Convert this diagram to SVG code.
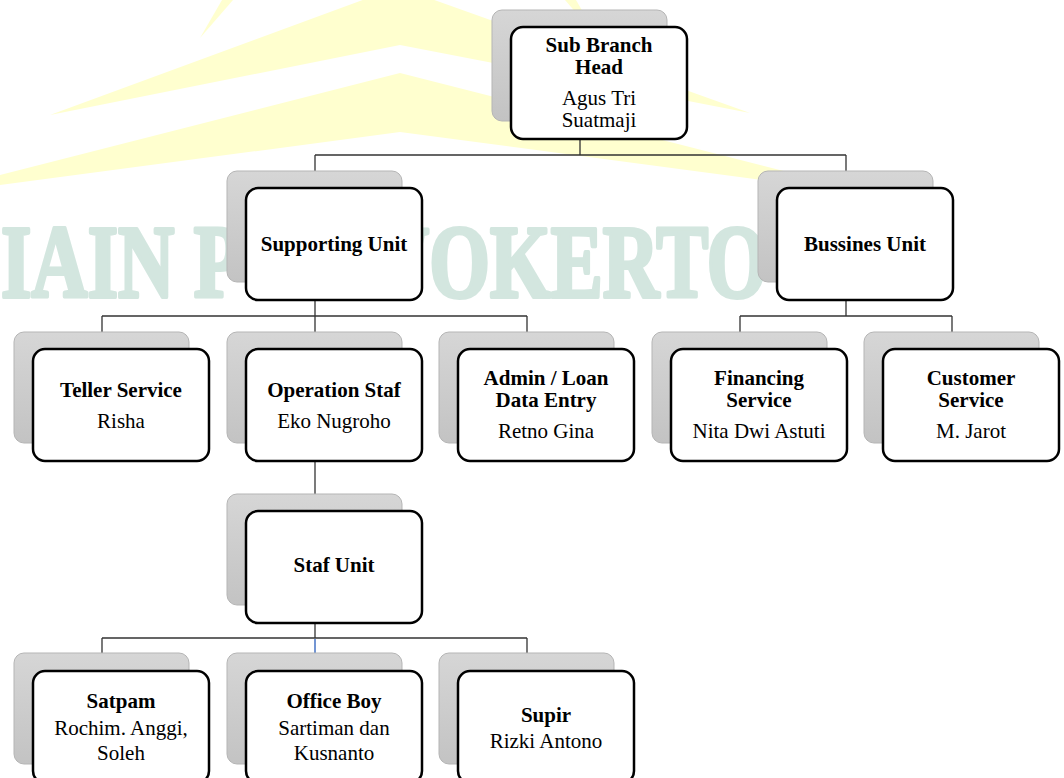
<svg xmlns="http://www.w3.org/2000/svg" width="1064" height="778" viewBox="0 0 1064 778">
<defs>
<linearGradient id="sg" x1="0" y1="0" x2="0" y2="1"><stop offset="0" stop-color="#d6d6d6"/><stop offset="1" stop-color="#c3c3c3"/></linearGradient>
<style>
.sh{fill:url(#sg);stroke:#b5b5b5;stroke-width:1}
.mn{fill:#fff;stroke:#000;stroke-width:2.5}
.t{font-family:"Liberation Serif",serif;font-size:21px;font-weight:bold;text-anchor:middle;fill:#000}
.n{font-family:"Liberation Serif",serif;font-size:21px;text-anchor:middle;fill:#000}
.c{fill:none;stroke:#333;stroke-width:1.3}
.cb{fill:none;stroke:#4472c4;stroke-width:1.5}
.y{fill:#ffffcf}
</style>
</defs>
<rect width="1064" height="778" fill="#fff"/>
<g id="watermark">
<polygon class="y" points="200,38 222,0 233,0"/>
<polygon class="y" points="598,38 576,0 565,0"/>
<polygon class="y" points="50,115 398,-13 750,113 400,45"/>
<polygon class="y" points="-82,196 400,73 882,196 400,132"/>
<text transform="translate(1,297) scale(0.75,1)" font-family="Liberation Serif, serif" font-weight="bold" font-size="104" fill="#d3e6df" stroke="#d3e6df" stroke-width="4" stroke-linejoin="round">IAIN PURWOKERTO</text>
</g>
<g id="connectors">
<path class="c" d="M580,139V155M315,155H846M315,155V171M846,155V171"/>
<path class="c" d="M315,300V316M102,316H527M102,316V332M315,316V332M527,316V332"/>
<path class="c" d="M846,300V316M740,316H952M740,316V332M952,316V332"/>
<path class="c" d="M315,461V494"/>
<path class="c" d="M315,623V638M102,638H527M102,638V653M527,638V653"/>
<path class="cb" d="M315,639V653"/>
</g>
<g id="head">
<rect class="sh" x="492" y="10" width="175" height="111" rx="10"/>
<rect class="mn" x="511" y="27" width="176" height="112" rx="12"/>
<text class="t" x="599" y="52">Sub Branch</text>
<text class="t" x="599" y="74">Head</text>
<text class="n" x="599" y="105">Agus Tri</text>
<text class="n" x="599" y="127">Suatmaji</text>
</g>
<g id="supporting">
<rect class="sh" x="227" y="171" width="175" height="111" rx="10"/>
<rect class="mn" x="246" y="188" width="176" height="112" rx="12"/>
<text class="t" x="334" y="251">Supporting Unit</text>
</g>
<g id="bussines">
<rect class="sh" x="758" y="171" width="175" height="111" rx="10"/>
<rect class="mn" x="777" y="188" width="176" height="112" rx="12"/>
<text class="t" x="865" y="251">Bussines Unit</text>
</g>
<g id="teller">
<rect class="sh" x="14" y="332" width="175" height="111" rx="10"/>
<rect class="mn" x="33" y="349" width="176" height="112" rx="12"/>
<text class="t" x="121" y="397">Teller Service</text>
<text class="n" x="121" y="428">Risha</text>
</g>
<g id="operation">
<rect class="sh" x="227" y="332" width="175" height="111" rx="10"/>
<rect class="mn" x="246" y="349" width="176" height="112" rx="12"/>
<text class="t" x="334" y="397">Operation Staf</text>
<text class="n" x="334" y="428">Eko Nugroho</text>
</g>
<g id="admin">
<rect class="sh" x="439" y="332" width="175" height="111" rx="10"/>
<rect class="mn" x="458" y="349" width="176" height="112" rx="12"/>
<text class="t" x="546" y="385">Admin / Loan</text>
<text class="t" x="546" y="407">Data Entry</text>
<text class="n" x="546" y="438">Retno Gina</text>
</g>
<g id="financing">
<rect class="sh" x="652" y="332" width="175" height="111" rx="10"/>
<rect class="mn" x="671" y="349" width="176" height="112" rx="12"/>
<text class="t" x="759" y="385">Financing</text>
<text class="t" x="759" y="407">Service</text>
<text class="n" x="759" y="438">Nita Dwi Astuti</text>
</g>
<g id="customer">
<rect class="sh" x="864" y="332" width="175" height="111" rx="10"/>
<rect class="mn" x="883" y="349" width="176" height="112" rx="12"/>
<text class="t" x="971" y="385">Customer</text>
<text class="t" x="971" y="407">Service</text>
<text class="n" x="971" y="438">M. Jarot</text>
</g>
<g id="staf">
<rect class="sh" x="227" y="494" width="175" height="111" rx="10"/>
<rect class="mn" x="246" y="511" width="176" height="112" rx="12"/>
<text class="t" x="334" y="572">Staf Unit</text>
</g>
<g id="satpam">
<rect class="sh" x="14" y="653" width="175" height="111" rx="10"/>
<rect class="mn" x="33" y="671" width="176" height="112" rx="12"/>
<text class="t" x="121" y="708">Satpam</text>
<text class="n" x="121" y="735">Rochim. Anggi,</text>
<text class="n" x="121" y="760">Soleh</text>
</g>
<g id="officeboy">
<rect class="sh" x="227" y="653" width="175" height="111" rx="10"/>
<rect class="mn" x="246" y="671" width="176" height="112" rx="12"/>
<text class="t" x="334" y="708">Office Boy</text>
<text class="n" x="334" y="735">Sartiman dan</text>
<text class="n" x="334" y="760">Kusnanto</text>
</g>
<g id="supir">
<rect class="sh" x="439" y="653" width="175" height="111" rx="10"/>
<rect class="mn" x="458" y="671" width="176" height="112" rx="12"/>
<text class="t" x="546" y="722">Supir</text>
<text class="n" x="546" y="748">Rizki Antono</text>
</g>
</svg>
